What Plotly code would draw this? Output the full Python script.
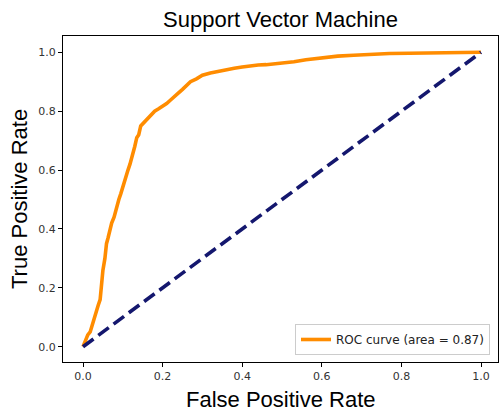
import plotly.graph_objects as go

# ROC curve values
fpr = [0, 0.005, 0.012, 0.018, 0.022, 0.026, 0.032, 0.038, 0.043, 0.045, 0.047, 0.050,
       0.055, 0.059, 0.063, 0.068, 0.072, 0.078, 0.085, 0.090, 0.095, 0.101, 0.108, 0.113,
       0.118, 0.125, 0.130, 0.135, 0.140, 0.145, 0.152, 0.160, 0.170, 0.180, 0.190, 0.200,
       0.210, 0.220, 0.230, 0.240, 0.250, 0.260, 0.270, 0.285, 0.300, 0.320, 0.340, 0.360,
       0.380, 0.400, 0.420, 0.440, 0.460, 0.480, 0.500, 0.530, 0.560, 0.600, 0.640, 0.680,
       0.720, 0.770, 0.820, 0.870, 0.920, 0.960, 1.0]
tpr = [0, 0.02, 0.04, 0.05, 0.07, 0.09, 0.11, 0.14, 0.16, 0.20, 0.23, 0.26,
       0.30, 0.35, 0.37, 0.40, 0.42, 0.44, 0.48, 0.50, 0.52, 0.55, 0.58, 0.60,
       0.62, 0.65, 0.68, 0.71, 0.72, 0.75, 0.76, 0.775, 0.79, 0.80, 0.808, 0.816,
       0.826, 0.838, 0.852, 0.862, 0.874, 0.888, 0.90, 0.91, 0.922, 0.93, 0.936, 0.942,
       0.946, 0.950, 0.955, 0.957, 0.958, 0.960, 0.962, 0.968, 0.975, 0.982, 0.987, 0.990,
       0.993, 0.996, 0.997, 0.998, 0.999, 1.0, 1.0]
chance_x = [0, 1]
chance_y = [0, 1]
tick_vals = [0.0, 0.2, 0.4, 0.6, 0.8, 1.0]
tick_text = ["0.0", "0.2", "0.4", "0.6", "0.8", "1.0"]
auc_label = "ROC curve (area = 0.87)"

fig = go.Figure()
fig.add_trace(go.Scatter(x=fpr, y=tpr, mode="lines", name=auc_label,
                         line=dict(color="#ff8c00", width=3.6)))
fig.add_trace(go.Scatter(x=chance_x, y=chance_y, mode="lines", showlegend=False,
                         line=dict(color="#14176e", width=3.6, dash="13px,6px")))

axis_common = dict(showline=True, mirror=True, linecolor="black", linewidth=1.2,
                   ticks="outside", ticklen=4, tickwidth=1, tickcolor="black",
                   showgrid=False, zeroline=False,
                   tickfont=dict(family="DejaVu Sans", size=11, color="#333"),
                   tickvals=tick_vals, ticktext=tick_text)

fig.update_layout(
    width=499, height=415,
    margin=dict(l=63, r=1, t=36, b=53),
    paper_bgcolor="white", plot_bgcolor="white",
    title=dict(text="Support Vector Machine", x=0.5, xref="paper", y=1 - 19 / 415,
               yanchor="middle", xanchor="center",
               font=dict(family="Liberation Sans", size=22, color="black")),
    xaxis=dict(range=[-0.0503, 1.0427], **axis_common),
    yaxis=dict(range=[-0.052, 1.0554], **axis_common),
    legend=dict(x=0.9816, y=0.0215, xanchor="right", yanchor="bottom",
                bgcolor="rgba(255,255,255,0.8)", bordercolor="#cccccc", borderwidth=1,
                font=dict(family="DejaVu Sans", size=12, color="#222"),
                itemwidth=30, tracegroupgap=0),
    showlegend=True,
    annotations=[
        dict(text="False Positive Rate", xref="paper", yref="paper", x=0.5, y=-37 / 326,
             xanchor="center", yanchor="middle", showarrow=False,
             font=dict(family="Liberation Sans", size=22, color="black")),
        dict(text="True Positive Rate", xref="paper", yref="paper", x=-44 / 435, y=0.5,
             xanchor="center", yanchor="middle", showarrow=False, textangle=-90,
             font=dict(family="Liberation Sans", size=22, color="black")),
    ],
)

fig.write_html("out.html")
